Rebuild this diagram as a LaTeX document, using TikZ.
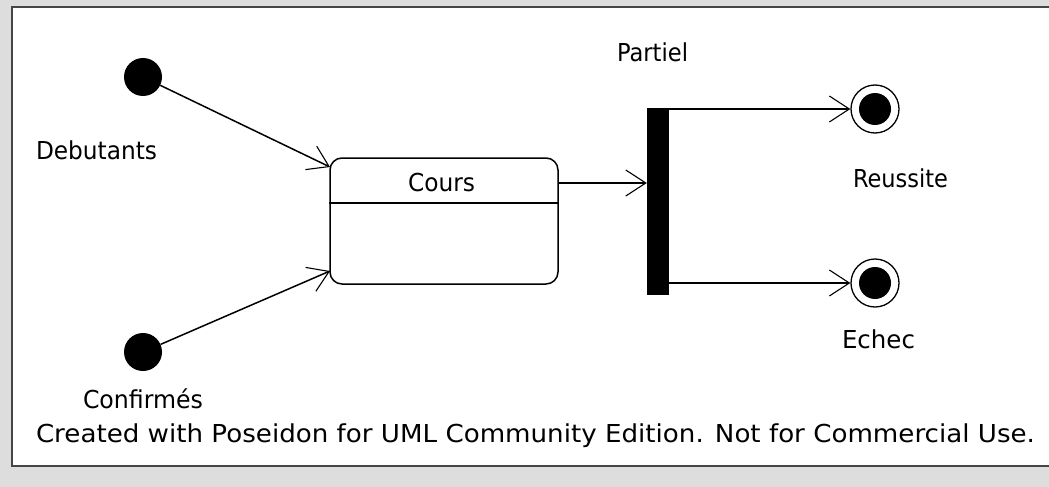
\documentclass[tikz,border=0pt]{standalone}
\usepackage{fontspec}
\setmainfont{DejaVu Sans}
\usetikzlibrary{arrows.meta}
\definecolor{bggrey}{RGB}{221,221,221}
\definecolor{rimgrey}{RGB}{70,70,70}
\newcommand\fitlbl[3]{%
  \setbox0\hbox{#3}\setbox2\hbox{H}%
  \pgfmathsetmacro\fsx{#1/\the\wd0}%
  \pgfmathsetmacro\fsy{#2/\the\ht2}%
  \scalebox{\fsx}[\fsy]{\box0}}
\tikzset{
  arr/.style={line width=1.5pt,-{Straight Barb[length=20pt,width=26pt,line width=1.1pt]}},
  lbl/.style={anchor=base west,inner sep=0pt,outer sep=0pt},
  initdot/.style={circle,fill=black,inner sep=0pt,minimum size=38pt},
  finalring/.style={circle,draw=black,line width=1.3pt,inner sep=0pt,minimum size=48pt},
}
\begin{document}
\begin{tikzpicture}[x=1pt,y=-1pt]
\useasboundingbox (0,0) rectangle (1049,487);
\fill[bggrey] (0,0) rectangle (1049,487);
\fill[white] (12,7) rectangle (1049,466);
\draw[rimgrey,line width=1.5pt] (1049,7) -- (12,7) -- (12,466) -- (1049,466);

% initial states
\node[initdot] (d1) at (143,77) {};
\node[initdot] (d2) at (143,352) {};
\node[lbl] (ldeb) at (36,159) {\fitlbl{121}{18}{Debutants}};
\node[lbl] (lconf) at (83,408) {\fitlbl{120}{18}{Confirmés}};

% Cours state
\node[draw=black,line width=1.5pt,rounded corners=12pt,minimum width=228pt,minimum height=126pt,inner sep=0pt] (cours) at (444,221) {};
\draw[line width=1.5pt] (cours.west |- 0,203) -- (cours.east |- 0,203);
\node[lbl] (lcours) at (408,191) {\fitlbl{67}{18}{Cours}};
\coordinate (cin1) at (330,167);
\coordinate (cin2) at (330,271);
\coordinate (chead) at (444,183);

% fork bar
\node[fill=black,inner sep=0pt,minimum width=22pt,minimum height=187pt] (bar) at (658,201.5) {};
\node[lbl] (lpart) at (617,61) {\fitlbl{71}{18}{Partiel}};

% final states
\node[finalring] (r) at (875,109) {};
\fill (r.center) circle[radius=16pt];
\node[finalring] (e) at (875,283) {};
\fill (e.center) circle[radius=16pt];
\node[lbl] (lreu) at (853,187) {\fitlbl{95}{18}{Reussite}};
\node[lbl] (lech) at (842,348) {\fitlbl{73}{18}{Echec}};

% connectors
\draw[arr] (d1) -- (cin1);
\draw[arr] (d2) -- (cin2);
\draw[arr] (cours.east |- chead) -- (bar.west |- chead);
\draw[arr] (bar.east |- r.center) -- (r.west);
\draw[arr] (bar.east |- e.center) -- (e.west);

% footer
\node[lbl] (foot) at (36,442) {\fitlbl{999}{18}{Created with Poseidon for UML Community Edition. Not for Commercial Use.}};
\end{tikzpicture}
\end{document}
